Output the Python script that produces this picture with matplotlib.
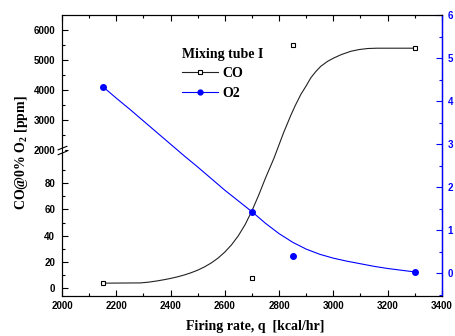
import numpy as np
import matplotlib
matplotlib.use("Agg")
import matplotlib.pyplot as plt
import matplotlib.transforms as mtransforms
from matplotlib.lines import Line2D
from matplotlib.path import Path
from matplotlib.ticker import FixedLocator, MultipleLocator

# measured points
rate = [2150, 2700, 2850, 3300]
co_ppm = [4, 8, 5500, 5400]
o2_pct = [4.34, 1.43, 0.39, 0.02]

# fitted curves
co_fit_rate = [2150, 2290, 2320, 2350, 2375, 2400, 2425, 2450, 2475, 2500,
               2525, 2550, 2575, 2600, 2625, 2650, 2675, 2700, 2725, 2750,
               2781, 2817, 2830, 2843, 2860, 2880, 2900, 2917, 2935, 2954,
               2980, 3003, 3030, 3065, 3095, 3126, 3160, 3300]
co_fit_ppm = [3.8, 4.0, 4.6, 5.5, 6.4, 7.4, 8.6, 10.0, 11.7, 13.7,
              16.2, 19.2, 22.9, 27.5, 33.1, 40.0, 48.5, 59.0, 71.0, 84.0,
              99.0, 2598, 2880, 3163, 3500, 3860, 4150, 4415, 4620, 4801,
              4970, 5080, 5190, 5299, 5355, 5389, 5400, 5400]
o2_fit_rate = [2150, 2200, 2250, 2300, 2350, 2400, 2450, 2500, 2550, 2600,
               2650, 2700, 2750, 2800, 2850, 2900, 2950, 3000, 3050, 3100,
               3150, 3200, 3250, 3300]
o2_fit_pct = [4.34, 4.07, 3.81, 3.54, 3.27, 3.0, 2.73, 2.47, 2.20, 1.93,
              1.68, 1.43, 1.16, 0.92, 0.72, 0.56, 0.44, 0.35, 0.28, 0.22,
              0.16, 0.11, 0.07, 0.03]

co_major = [0, 20, 40, 60, 80, 2000, 3000, 4000, 5000, 6000]
co_minor = [10, 30, 50, 70, 90, 2500, 3500, 4500, 5500]

# broken axis: 0..105 ppm below, 2000.. ppm above
LOW_TOP, HIGH_BOT = 105.0, 2000.0
A, B = 1.3125, 0.0301
_xp = np.array([-1000.0, LOW_TOP, HIGH_BOT, 20000.0])
_fp = np.array([-1000 * A, LOW_TOP * A, LOW_TOP * A + 0.01,
                LOW_TOP * A + 0.01 + (20000 - HIGH_BOT) * B])


def fwd(y):
    return np.interp(y, _xp, _fp)


def inv(t):
    return np.interp(t, _fp, _xp)


serif = "Liberation Serif"
sans = "Liberation Sans"
plt.rcParams["mathtext.fontset"] = "custom"
plt.rcParams["mathtext.rm"] = "Liberation Serif:bold"
plt.rcParams["mathtext.it"] = "Liberation Serif:bold"
plt.rcParams["mathtext.bf"] = "Liberation Serif:bold"

fig = plt.figure(figsize=(4.56, 3.36), dpi=100)
ax = fig.add_axes([0.136, 0.119, 0.833, 0.836])
ax.set_yscale("function", functions=(fwd, inv))

ax.plot(co_fit_rate, co_fit_ppm, color="#222222", lw=0.8)
ax.plot(rate, co_ppm, ls="none", marker="s", ms=3.5, mfc="white",
        mec="black", mew=0.8)

ax.set_xlim(2000, 3400)
ax.set_ylim(-6, 6500)
ax.xaxis.set_major_locator(MultipleLocator(200))
ax.xaxis.set_minor_locator(MultipleLocator(100))
ax.yaxis.set_major_locator(FixedLocator(co_major))
ax.yaxis.set_minor_locator(FixedLocator(co_minor))
ax.yaxis.set_major_formatter(plt.FuncFormatter(lambda v, p: "%d" % v))
ax.tick_params(which="both", direction="in", top=True, right=False)
ax.tick_params(which="major", length=4, width=0.8)
ax.tick_params(which="minor", length=2, width=0.8)
ax.tick_params(axis="y", pad=5)
for lab in ax.get_xticklabels() + ax.get_yticklabels():
    lab.set_fontfamily(sans)
    lab.set_fontweight("bold")
    lab.set_fontsize(7)

ax.set_xlabel("Firing rate, q  [kcal/hr]", fontfamily=serif,
              fontweight="bold", fontsize=10)
ax.xaxis.set_label_coords(0.508, -0.085)
ax.set_ylabel("CO@0% O$_2$ [ppm]", fontfamily=serif, fontweight="bold",
              fontsize=10)
ax.yaxis.set_label_coords(-0.085, 0.51)

# break marks on the left axis
trans = mtransforms.blended_transform_factory(ax.transAxes, ax.transData)
brk = Path([(-1, -0.9), (1, -0.1), (-1, 0.1), (1, 0.9)],
           [Path.MOVETO, Path.LINETO, Path.MOVETO, Path.LINETO])
ax.plot([0], [HIGH_BOT], transform=trans, marker="s", ms=3, mfc="white",
        mec="white", clip_on=False, zorder=5)
ax.plot([0], [HIGH_BOT], transform=trans, marker=brk, ms=7, mec="black",
        mew=0.8, clip_on=False, zorder=6)

ax2 = ax.twinx()
ax2.plot(o2_fit_rate, o2_fit_pct, color="blue", lw=0.8)
ax2.plot(rate, o2_pct, ls="none", marker="o", ms=4, color="blue")
ax2.set_ylim(-0.53, 6.0)
ax2.yaxis.set_major_locator(MultipleLocator(1))
ax2.yaxis.set_minor_locator(MultipleLocator(0.5))
ax2.tick_params(axis="y", which="both", direction="in", colors="blue", pad=4)
ax2.tick_params(axis="y", which="major", length=4, width=0.8)
ax2.tick_params(axis="y", which="minor", length=2, width=0.8)
ax2.spines["right"].set_color("blue")
ax2.spines["right"].set_linewidth(1.0)
for lab in ax2.get_yticklabels():
    lab.set_fontfamily(sans)
    lab.set_fontweight("bold")
    lab.set_fontsize(7)

handles = [
    Line2D([], [], color="#222222", lw=0.8, marker="s", ms=3, mfc="white",
           mec="black", mew=0.8),
    Line2D([], [], color="blue", lw=0.8, marker="o", ms=3.5),
]
leg = ax.legend(handles, ["CO", "O2"], title="Mixing tube I", loc="upper left",
                bbox_to_anchor=(0.399, 0.857), bbox_transform=fig.transFigure,
                frameon=False, borderpad=0, borderaxespad=0, handlelength=2.6,
                handletextpad=0.3, labelspacing=0.45, alignment="left",
                prop=dict(family=serif, weight="bold", size=10),
                title_fontproperties=dict(family=serif, weight="bold", size=10))
leg.set_zorder(10)

fig.savefig("out.png", dpi=100)
